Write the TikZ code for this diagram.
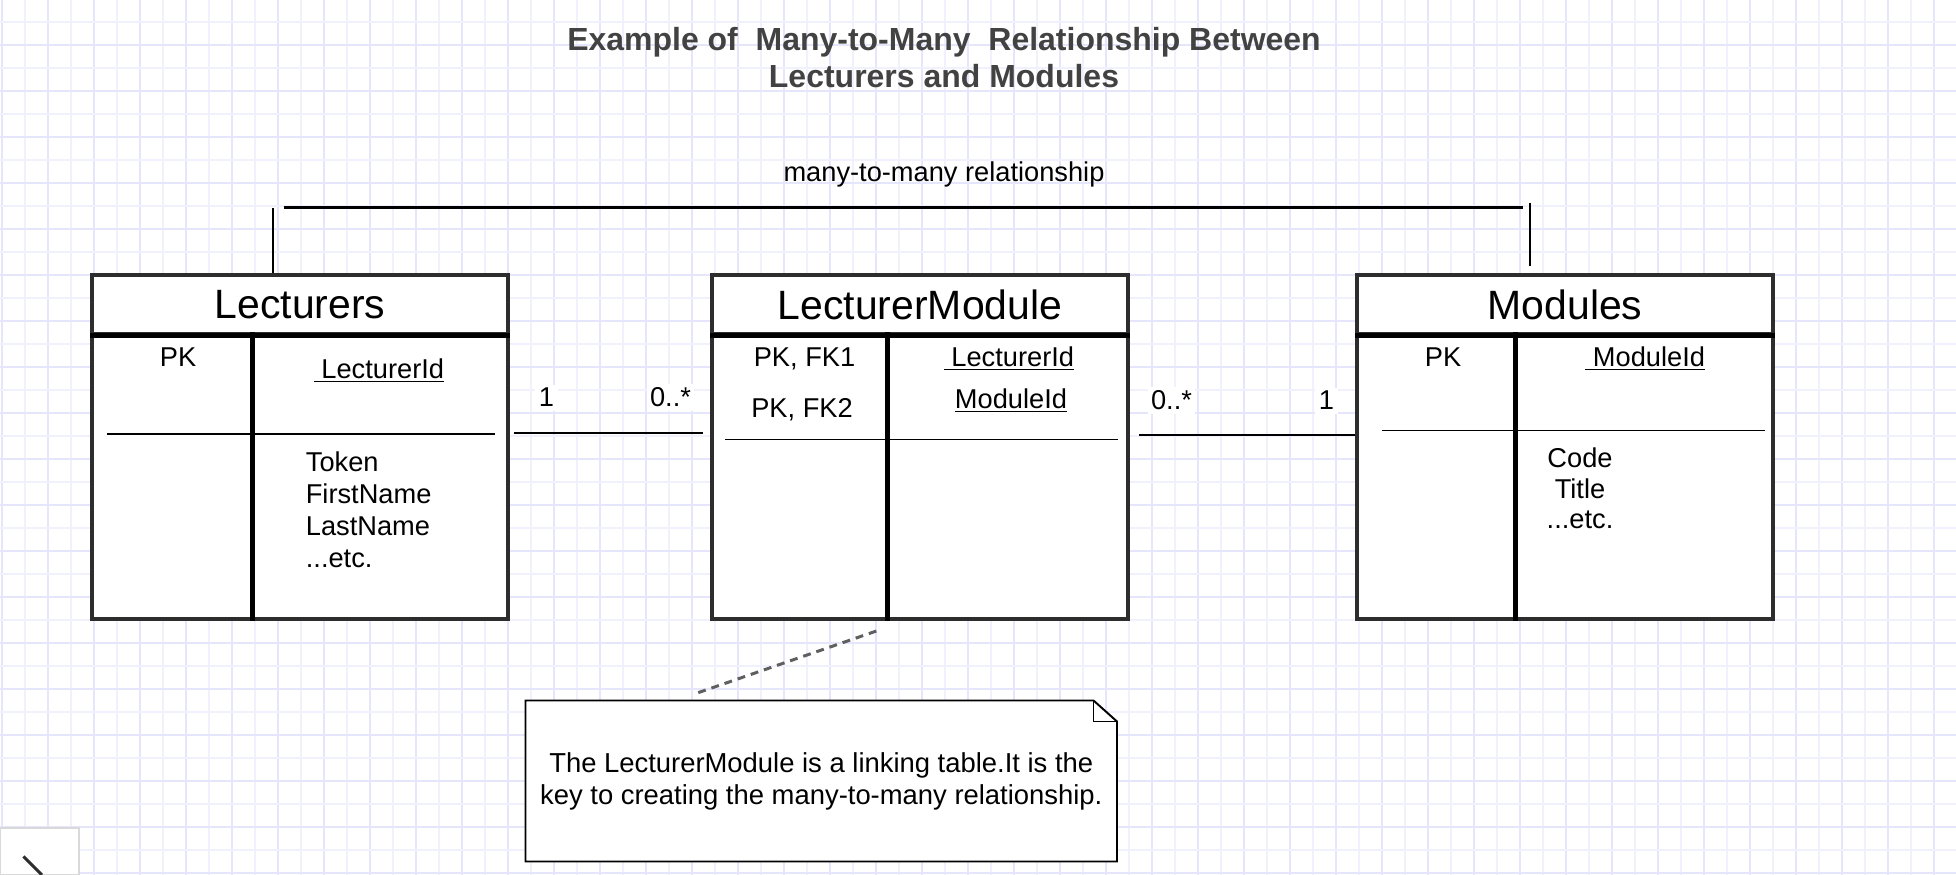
\documentclass[tikz,border=0pt]{standalone}
\usepackage{fontspec}
\setmainfont{Liberation Sans}
\usetikzlibrary{positioning,calc}

\definecolor{gridminor}{RGB}{241,241,253}
\definecolor{gridmajor}{RGB}{229,229,251}
\definecolor{boxgray}{RGB}{45,45,45}
\definecolor{titlegray}{RGB}{66,66,66}
\definecolor{dashgray}{RGB}{95,95,95}

\begin{document}
\begin{tikzpicture}
    % Define styles
    \tikzset{
        tablehead/.style={draw=boxgray, line width=2pt, fill=white, rectangle, minimum width=8.32cm, minimum height=1.18cm, inner sep=0pt, font=\fontsize{23.3}{28}\selectfont},
        tablebody/.style={draw=boxgray, line width=2pt, fill=white, rectangle, minimum width=8.32cm, minimum height=5.7cm, inner sep=0pt},
        field/.style={inner sep=0pt, font=\fontsize{15.5}{18.2}\selectfont},
        mult/.style={field, fill=white, inner sep=2pt},
        divider/.style={line width=2.7pt},
        sepline/.style={line width=1.1pt},
        link/.style={line width=1.3pt},
        relline/.style={line width=1.6pt},
        notelink/.style={dash pattern=on 4.5pt off 3.4pt, line width=1.7pt, draw=dashgray},
        notebox/.style={draw, line width=1.1pt, fill=white}
    }

    % Background grid
    \useasboundingbox (0,0) rectangle (39.12,17.5);
    \fill[white] (0,0) rectangle (39.12,17.5);
    \foreach \i in {1,3,...,83}
        \draw[line width=1.1pt, draw=gridminor] ({(1.7+23*\i)/50},0) -- ({(1.7+23*\i)/50},17.5);
    \foreach \i in {0,2,...,84}
        \draw[line width=1.1pt, draw=gridmajor] ({(1.7+23*\i)/50},0) -- ({(1.7+23*\i)/50},17.5);
    \foreach \i in {0,2,...,36}
        \draw[line width=1.1pt, draw=gridminor] (0,{(853.3-23*\i)/50}) -- (39.12,{(853.3-23*\i)/50});
    \foreach \i in {1,3,...,37}
        \draw[line width=1.1pt, draw=gridmajor] (0,{(853.3-23*\i)/50}) -- (39.12,{(853.3-23*\i)/50});

    % Title
    \node[anchor=north, align=center, inner sep=0pt, text=titlegray, font=\bfseries\fontsize{18.2}{21.3}\selectfont] (title) at (18.88,16.96) {Example of\ \ Many-to-Many\ \ Relationship Between\\Lecturers and Modules};

    % Place tables
    \node[tablehead] (lect_head) at (6.00,11.41) {Lecturers};
    \node[tablebody] (lect_body) at (6.00,7.97) {};
    \node[tablehead] (lm_head) at (18.40,11.41) {LecturerModule};
    \node[tablebody] (lm_body) at (18.40,7.97) {};
    \node[tablehead] (mod_head) at (31.30,11.41) {Modules};
    \node[tablebody] (mod_body) at (31.30,7.97) {};

    % Table rules
    \draw[divider] (lect_head.south west) -- (lect_head.south east);
    \draw[divider] ([xshift=3.24cm]lect_body.north west) -- ([xshift=3.24cm]lect_body.south west);
    \draw[sepline] (2.14,8.82) -- (9.90,8.82);
    \draw[divider] (lm_head.south west) -- (lm_head.south east);
    \draw[divider] ([xshift=3.54cm]lm_body.north west) -- ([xshift=3.54cm]lm_body.south west);
    \draw[sepline] (14.50,8.71) -- (22.36,8.71);
    \draw[divider] (mod_head.south west) -- (mod_head.south east);
    \draw[divider] ([xshift=3.21cm]mod_body.north west) -- ([xshift=3.21cm]mod_body.south west);
    \draw[sepline] (27.63,8.89) -- (35.30,8.89);

    % Fields
    \node[field, anchor=base] (lect_pk) at (3.56,10.16) {PK};
    \node[field, anchor=base west] (lect_id) at (6.27,9.93) {\underline{\ LecturerId}};
    \node[field, anchor=north west, align=left] (lect_attr) at (6.11,8.47) {Token\\FirstName\\LastName\\...etc.};

    \node[field, anchor=base] (lm_pk1) at (16.09,10.16) {PK, FK1};
    \node[field, anchor=base] (lm_pk2) at (16.04,9.15) {PK, FK2};
    \node[field, anchor=base west] (lm_lid) at (18.87,10.16) {\underline{\ LecturerId}};
    \node[field, anchor=base] (lm_mid) at (20.22,9.32) {\underline{ModuleId}};

    \node[field, anchor=base] (mod_pk) at (28.86,10.16) {PK};
    \node[field, anchor=base west] (mod_id) at (31.70,10.16) {\underline{\ ModuleId}};
    \node[field, anchor=north, align=center, font=\fontsize{15.5}{17.6}\selectfont] (mod_attr) at (31.60,8.56) {Code\\Title\\...etc.};

    % Links between tables
    \draw[link] ([xshift=0.8mm,yshift=8.7mm]lect_body.east) -- ([xshift=-1.4mm,yshift=8.7mm]lm_body.west);
    \draw[link] ([xshift=1.9mm,yshift=8.3mm]lm_body.east) -- ([yshift=8.3mm]mod_body.west);
    \node[mult, anchor=base] (one_left) at (10.93,9.36) {1};
    \node[mult, anchor=base] (many_left) at (13.41,9.36) {0..*};
    \node[mult, anchor=base] (many_right) at (23.43,9.30) {0..*};
    \node[mult, anchor=base] (one_right) at (26.53,9.30) {1};

    % many-to-many bracket over the tables
    \coordinate (rel_start) at (5.67,13.35);
    \coordinate (rel_end) at (30.45,13.35);
    \draw[link] ([xshift=-5.46mm]lect_head.north) -- ++(0,1.30);
    \draw[relline] (rel_start) -- (rel_end);
    \draw[link] ([xshift=-7mm,yshift=1.4mm]mod_head.north) -- ++(0,1.26);
    \node[field, anchor=base] (rel_label) at (18.88,13.87) {many-to-many relationship};

    % Note
    \coordinate (note_sw) at (10.51,0.27);
    \coordinate (note_ne) at (22.34,3.49);
    \draw[notebox] (note_sw) |- ([xshift=-4.7mm]note_ne) -- ([yshift=-4.2mm]note_ne) -- (note_sw -| note_ne) -- cycle;
    \draw[notebox, fill=none] ([xshift=-4.7mm]note_ne) |- ([yshift=-4.2mm]note_ne);
    \node[field, minimum width=11.83cm, minimum height=3.22cm, align=center, font=\fontsize{15.6}{18.2}\selectfont] (note) at ($(note_sw)!0.5!(note_ne)$) {The LecturerModule is a linking table.It is the\\key to creating the many-to-many relationship.};
    \draw[notelink] ([xshift=-24.6mm,yshift=1.5mm]note.north) -- ([xshift=-8mm,yshift=-1.8mm]lm_body.south);

    % Corner handle
    \draw[draw=black!15, line width=0.6pt, fill=white] (0,0) rectangle (1.58,0.94);
    \draw[line width=1.7pt, draw=boxgray] (0.47,0.37) -- (0.84,0);
\end{tikzpicture}
\end{document}
